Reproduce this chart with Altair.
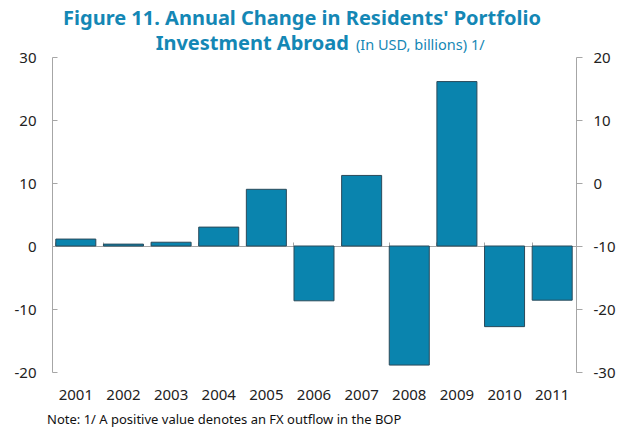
import altair as alt
import pandas as pd

years = ["2001", "2002", "2003", "2004", "2005", "2006", "2007", "2008", "2009", "2010", "2011"]
values = [1.1, 0.3, 0.6, 3.0, 9.0, -8.7, 11.2, -18.9, 26.1, -12.8, -8.6]
y_min, y_max = -20, 30
left_ticks = [-20, -10, 0, 10, 20, 30]
right_shift = 10  # right axis reads left value minus 10

title_line1 = "Figure 11. Annual Change in Residents' Portfolio"
title_line2_bold = "Investment Abroad"
title_line2_unit = "(In USD, billions) 1/"
note_text = "Note: 1/ A positive value denotes an FX outflow in the BOP"

W, H = 524, 315
TEAL = "#0A84AE"
TITLE = "#1487B5"
AXIS = "#A6A6A6"
FONT = "Noto Sans"

df = pd.DataFrame({"year": years, "value": values})
zero_offset = H * (y_max - 0) / (y_max - y_min)

xs = alt.Scale(domain=years, paddingInner=0.16, paddingOuter=0.08)
ys = alt.Scale(domain=[y_min, y_max], nice=False, zero=False)

base = alt.Chart(df)

bars = base.mark_bar(fill=TEAL, stroke="#2B4A5A", strokeWidth=1).encode(
    x=alt.X("year:N", scale=xs, sort=years, title=None,
            axis=alt.Axis(orient="bottom", domain=False, ticks=False, labelAngle=0,
                          labelPadding=15, labelFontSize=15, labelColor="#222222",
                          labelFont=FONT)),
    y=alt.Y("value:Q", scale=ys, title=None,
            axis=alt.Axis(orient="left", values=left_ticks, domain=True, domainColor=AXIS,
                          ticks=False, labelPadding=16, labelFontSize=15,
                          labelColor="#222222", labelFont=FONT, grid=False,
                          labelExpr="'' + datum.value")),
)

# zero line with category-boundary ticks, and inward ticks on the left edge
zero_axis = base.mark_point(opacity=0).encode(
    x=alt.X("year:N", scale=xs, sort=years, title=None,
            axis=alt.Axis(orient="top", offset=-zero_offset, labels=False, domain=True,
                          domainColor=AXIS, ticks=True, tickColor=AXIS, tickSize=4,
                          bandPosition=0)),
    y=alt.Y("value:Q", scale=ys, title=None,
            axis=alt.Axis(orient="right", offset=-W, values=left_ticks, labels=False,
                          domain=False, ticks=True, tickColor=AXIS, tickSize=5, grid=False)),
)

right_axis = base.mark_point(opacity=0).encode(
    x=alt.X("year:N", scale=xs, sort=years, axis=None),
    y=alt.Y("value:Q", scale=ys, title=None,
            axis=alt.Axis(orient="right", values=left_ticks, domain=True, domainColor=AXIS,
                          ticks=True, tickColor=AXIS, tickSize=6, labelPadding=11,
                          labelFontSize=15, labelColor="#222222", labelFont=FONT,
                          labelExpr=f"'' + (datum.value - {right_shift})", grid=False)),
)

t1 = alt.Chart(pd.DataFrame({"t": [title_line1]})).mark_text(
    font=FONT, fontSize=20, fontWeight="bold", color=TITLE, align="center", baseline="alphabetic"
).encode(text="t:N", x=alt.value(250), y=alt.value(-32.5))

t2 = alt.Chart(pd.DataFrame({"t": [title_line2_bold]})).mark_text(
    font=FONT, fontSize=20, fontWeight="bold", color=TITLE, align="right", baseline="alphabetic"
).encode(text="t:N", x=alt.value(297), y=alt.value(-7))

t3 = alt.Chart(pd.DataFrame({"t": [title_line2_unit]})).mark_text(
    font=FONT, fontSize=14.5, color=TITLE, align="left", baseline="alphabetic"
).encode(text="t:N", x=alt.value(304), y=alt.value(-7))

note = alt.Chart(pd.DataFrame({"t": [note_text]})).mark_text(
    font=FONT, fontSize=13, color="#111111", align="left", baseline="alphabetic"
).encode(text="t:N", x=alt.value(-5), y=alt.value(367))

chart = alt.layer(bars, zero_axis, right_axis, t1, t2, t3, note).resolve_axis(
    x="independent", y="independent"
).properties(
    width=W, height=H,
    autosize=alt.AutoSizeParams(type="none"),
    padding={"left": 44, "top": 49, "right": 40, "bottom": 57},
).configure_view(stroke=None)

chart.save("out.html", embed_options={"renderer": "svg", "actions": False})
